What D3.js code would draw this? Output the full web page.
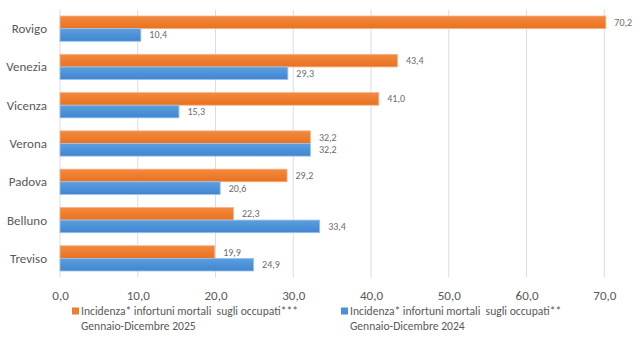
<!DOCTYPE html>
<html>
<head>
<meta charset="utf-8">
<script src="https://cdn.jsdelivr.net/npm/d3@7"></script>
<style>
  body { margin: 0; background: #fff; }
  svg { display: block; font-family: Calibri, Carlito, Lato, "Open Sans", sans-serif; }
</style>
</head>
<body>
<svg id="chart" width="640" height="338"></svg>
<script>
var province = ['Rovigo', 'Venezia', 'Vicenza', 'Verona', 'Padova', 'Belluno', 'Treviso'];
var anno2025 = [70.2, 43.4, 41.0, 32.2, 29.2, 22.3, 19.9];
var anno2024 = [10.4, 29.3, 15.3, 32.2, 20.6, 33.4, 24.9];
var tickValues = [0, 10, 20, 30, 40, 50, 60, 70];
var legendLabels = [
  ['Incidenza* infortuni mortali  sugli occupati***', 'Gennaio-Dicembre 2025'],
  ['Incidenza* infortuni mortali  sugli occupati**', 'Gennaio-Dicembre 2024']
];

var svg = d3.select('#chart');
var fmt = function(v) { return d3.format('.1f')(v).replace('.', ','); };

var x = d3.scaleLinear().domain([0, 70]).range([60, 604.3]);
var y = d3.scaleBand().domain(province).range([9.5, 277.5]).paddingInner(0.34).paddingOuter(0.17);
var sub = d3.scaleBand().domain(['2025', '2024']).range([0, y.bandwidth()]);

// soft vertical gradients on the bars
var defs = svg.append('defs');
function gradient(id, top, bottom) {
  var g = defs.append('linearGradient').attr('id', id)
    .attr('x1', 0).attr('y1', 0).attr('x2', 0).attr('y2', 1);
  g.append('stop').attr('offset', '0%').attr('stop-color', top);
  g.append('stop').attr('offset', '100%').attr('stop-color', bottom);
}
gradient('gOrange', '#F28A40', '#EA711E');
gradient('gBlue', '#5C9FE0', '#3F86D0');

// gridlines
svg.append('g').selectAll('line')
  .data(tickValues)
  .enter().append('line')
  .attr('x1', function(d) { return x(d); })
  .attr('x2', function(d) { return x(d); })
  .attr('y1', 9.5).attr('y2', 277.5)
  .attr('stroke', '#D9DDE4').attr('stroke-width', 1);

var series = [
  { key: '2025', values: anno2025, fill: 'url(#gOrange)', edge: '#F6B48A', swatch: '#ED7D31' },
  { key: '2024', values: anno2024, fill: 'url(#gBlue)', edge: '#9CC3EC', swatch: '#4A90D9' }
];

series.forEach(function(s) {
  var g = svg.append('g');
  g.selectAll('rect')
    .data(province)
    .enter().append('rect')
    .attr('x', x(0))
    .attr('y', function(d) { return y(d) + sub(s.key); })
    .attr('width', function(d, i) { return x(s.values[i]) - x(0); })
    .attr('height', sub.bandwidth())
    .attr('fill', s.fill)
    .attr('stroke', s.edge).attr('stroke-width', 0.8);

  g.selectAll('text')
    .data(province)
    .enter().append('text')
    .attr('x', function(d, i) { return x(s.values[i]) + 8.5; })
    .attr('y', function(d) { return y(d) + sub(s.key) + sub.bandwidth() / 2; })
    .attr('dy', '0.35em')
    .attr('font-size', 10)
    .attr('fill', '#6B6B6B')
    .text(function(d, i) { return fmt(s.values[i]); });
});

// category labels
svg.append('g').selectAll('text')
  .data(province)
  .enter().append('text')
  .attr('x', 47)
  .attr('y', function(d) { return y(d) + y.bandwidth() / 2; })
  .attr('dy', '0.35em')
  .attr('text-anchor', 'end')
  .attr('font-size', 13)
  .attr('fill', '#595959')
  .text(function(d) { return d; });

// bottom axis labels
var axis = d3.axisBottom(x).tickValues(tickValues).tickSize(0).tickPadding(0).tickFormat(fmt);
var ax = svg.append('g').attr('transform', 'translate(0,291)').call(axis);
ax.select('.domain').remove();
ax.selectAll('text').attr('font-size', 13).attr('fill', '#595959')
  .attr('font-family', 'Calibri, Carlito, Lato, "Open Sans", sans-serif');

// legend
var legendX = [72, 341];
series.forEach(function(s, i) {
  var lg = svg.append('g').attr('transform', 'translate(' + legendX[i] + ',311)');
  lg.append('rect').attr('x', 0).attr('y', -3.5).attr('width', 7).attr('height', 7).attr('fill', s.swatch);
  lg.append('text').attr('x', 9).attr('y', 0).attr('dy', '0.35em')
    .attr('font-size', 11.6).attr('fill', '#595959').style('white-space', 'pre')
    .text(legendLabels[i][0]);
  lg.append('text').attr('x', 9).attr('y', 15).attr('dy', '0.35em')
    .attr('font-size', 11.6).attr('fill', '#595959')
    .text(legendLabels[i][1]);
});
</script>
</body>
</html>
